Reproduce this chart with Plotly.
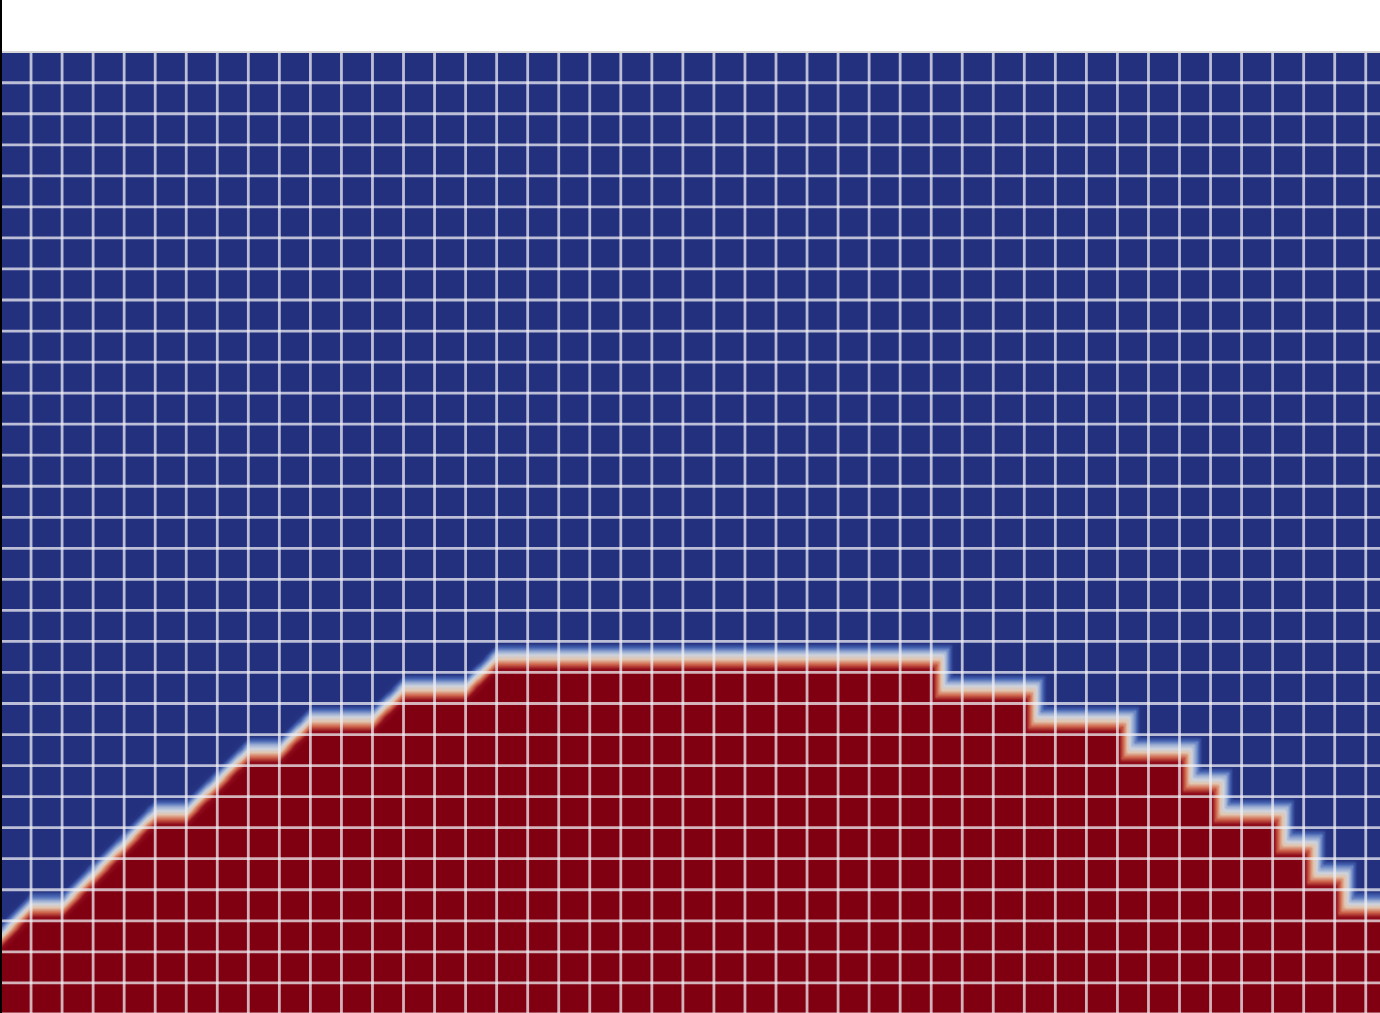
import numpy as np
import plotly.graph_objects as go

# ---- data (grid units: columns from left, rows from bottom) ----
# centre line of the interface on the rising left part (height per column)
left_x = [-1, 0, 1, 2, 5, 6, 8, 9, 10, 12, 13, 15, 16, 46]
left_y = [1.5, 2.5, 3.5, 3.5, 6.5, 6.5, 8.5, 8.5, 9.5, 9.5, 10.5, 10.5, 11.5, 11.5]
# staircase on the right: step edge position and level to the left of it
step_x = [30.35, 33.35, 36.35, 38.35, 39.35, 41.35, 42.35, 43.35, 47]
step_h = [11.5, 10.5, 9.5, 8.5, 7.5, 6.5, 5.5, 4.5, 3.5]
# mesh lines
grid_cols = list(range(0, 45))
grid_rows = list(range(0, 32))

X_RANGE = [0, 44.459]
Y_RANGE = [0.029, 30.99]

# ---- field sampled on a fine lattice ----
xs = np.arange(-0.05, 44.65, 0.1)
ys = np.arange(-0.05, 31.1, 0.1)
XX, YY = np.meshgrid(xs, ys)
hL = np.interp(XX, left_x, left_y)
field = np.zeros_like(XX)
for a, h in zip(step_x, step_h):
    g = np.minimum(np.minimum(hL - YY, h - YY), (a - XX) / 0.8)
    field = np.maximum(field, np.clip(0.5 + g / 1.1, 0, 1))

colorscale = [
    [0.0, "rgb(35,48,125)"],
    [0.1, "rgb(38,53,132)"],
    [0.22, "rgb(70,100,178)"],
    [0.34, "rgb(150,170,210)"],
    [0.44, "rgb(205,210,222)"],
    [0.55, "rgb(226,196,172)"],
    [0.69, "rgb(208,104,78)"],
    [0.84, "rgb(146,14,28)"],
    [1.0, "rgb(128,0,18)"],
]

fig = go.Figure()
fig.add_trace(go.Heatmap(
    x=xs, y=ys, z=field, zmin=0, zmax=1, colorscale=colorscale,
    zsmooth="best", showscale=False, hoverinfo="skip",
))

gx, gy = [], []
for c in grid_cols:
    gx += [c, c, None]
    gy += [-1, 32, None]
for r in grid_rows:
    gx += [-1, 46, None]
    gy += [r, r, None]
fig.add_trace(go.Scatter(
    x=gx, y=gy, mode="lines",
    line=dict(color="rgba(240,240,246,0.74)", width=2.8),
    hoverinfo="skip", showlegend=False,
))

fig.update_layout(
    width=1380, height=1013,
    margin=dict(l=0, r=0, t=52, b=0),
    paper_bgcolor="white", plot_bgcolor="white",
    showlegend=False,
    xaxis=dict(range=X_RANGE, visible=False, fixedrange=True),
    yaxis=dict(range=Y_RANGE, visible=False, fixedrange=True),
    shapes=[
        dict(type="line", xref="paper", yref="paper", x0=0, x1=1, y0=1, y1=1,
             line=dict(color="rgb(214,214,214)", width=2)),
        dict(type="rect", xref="paper", yref="paper", x0=0, x1=2 / 1380,
             y0=0, y1=1 + 52 / 961, fillcolor="black", line=dict(width=0)),
    ],
)

fig.write_html("out.html", config={"displayModeBar": False})
